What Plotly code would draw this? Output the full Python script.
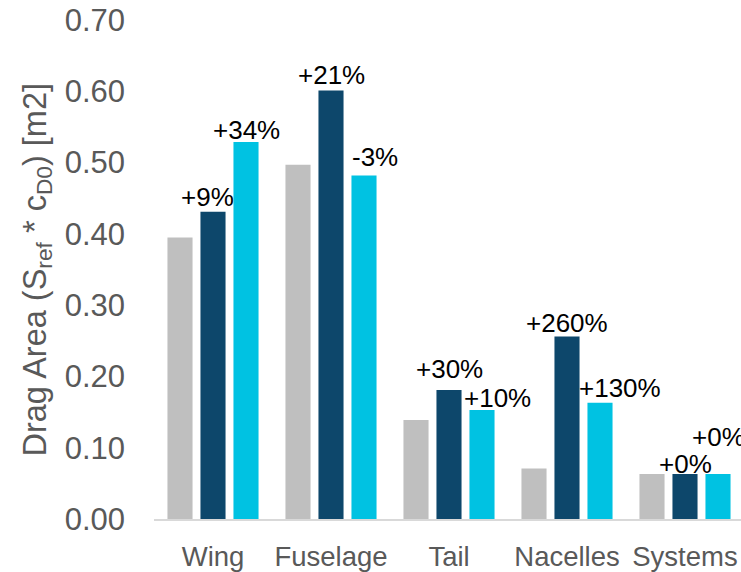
import plotly.graph_objects as go

# Component drag areas (S_ref * c_D0), m2
components = ["Wing", "Fuselage", "Tail", "Nacelles", "Systems"]
baseline = [0.395, 0.497, 0.139, 0.071, 0.063]
variant_a = [0.431, 0.601, 0.181, 0.256, 0.063]
variant_b = [0.529, 0.482, 0.153, 0.163, 0.063]

# Change relative to baseline
change_a = ["+9%", "+21%", "+30%", "+260%", "+0%"]
change_b = ["+34%", "-3%", "+10%", "+130%", "+0%"]

y_ticks = [0.0, 0.1, 0.2, 0.3, 0.4, 0.5, 0.6, 0.7]

FONT = "Liberation Sans, Arial, sans-serif"
GREY_TXT = "#595959"
COLORS = ["#BFBFBF", "#0D476B", "#00C2E2"]

# layout geometry (px)
W, H = 741, 572
M_L, M_R, M_T, M_B = 154, 0, 20, 50
CAT_PX = 118          # width of one category on the x axis
SLOT_PX = 33          # distance between neighbouring bars in a group
plot_w = W - M_L - M_R
plot_h = H - M_T - M_B
x_max = plot_w / CAT_PX - 0.5

fig = go.Figure()
for name, vals, col in zip(["Baseline", "Variant A", "Variant B"],
                           [baseline, variant_a, variant_b], COLORS):
    fig.add_trace(go.Bar(x=components, y=vals, name=name,
                         marker=dict(color=col, line=dict(width=0)),
                         showlegend=False))

# per-label nudges (dx, dy) in px for the change labels
nudge_a = [(-6, 15), (0, 16), (0, 21), (0, 14), (0, 10)]
nudge_b = [(0, 12), (11, 18), (15, 12), (20, 15), (0, 37)]

annotations = []
for slot, vals, texts, nudges in [(0, variant_a, change_a, nudge_a),
                                  (1, variant_b, change_b, nudge_b)]:
    for cat, v, t, (dx, dy) in zip(components, vals, texts, nudges):
        annotations.append(dict(
            x=cat, y=v, xref="x", yref="y", text=t, showarrow=False,
            xanchor="center", yanchor="middle",
            xshift=slot * SLOT_PX + dx, yshift=dy,
            font=dict(family=FONT, size=26, color="#000000")))

# rotated y-axis title
annotations.append(dict(
    xref="paper", yref="paper", x=(37 - M_L) / plot_w,
    y=(H - M_B - 271) / plot_h,
    text="Drag Area (S<sub>ref</sub> * c<sub>D0</sub>) [m2]",
    textangle=-90, showarrow=False, xanchor="center", yanchor="middle",
    font=dict(family=FONT, size=32.5, color=GREY_TXT)))

fig.update_layout(
    width=W, height=H,
    margin=dict(l=M_L, r=M_R, t=M_T, b=M_B, pad=0),
    paper_bgcolor="white", plot_bgcolor="white",
    barmode="group", bargap=0.161, bargroupgap=0.24,
    annotations=annotations,
    font=dict(family=FONT, color=GREY_TXT),
)
fig.update_xaxes(
    range=[-0.5, x_max], showline=True, linecolor="#D9D9D9", linewidth=2,
    showgrid=False, ticks="", ticklabelstandoff=12,
    tickfont=dict(family=FONT, size=27.5, color=GREY_TXT),
)
fig.update_yaxes(
    range=[0, 0.7], tickvals=y_ticks, tickformat=".2f",
    showline=False, showgrid=False, zeroline=False, ticks="",
    ticklabelstandoff=28,
    tickfont=dict(family=FONT, size=31, color=GREY_TXT),
)

fig.write_html("out.html")
